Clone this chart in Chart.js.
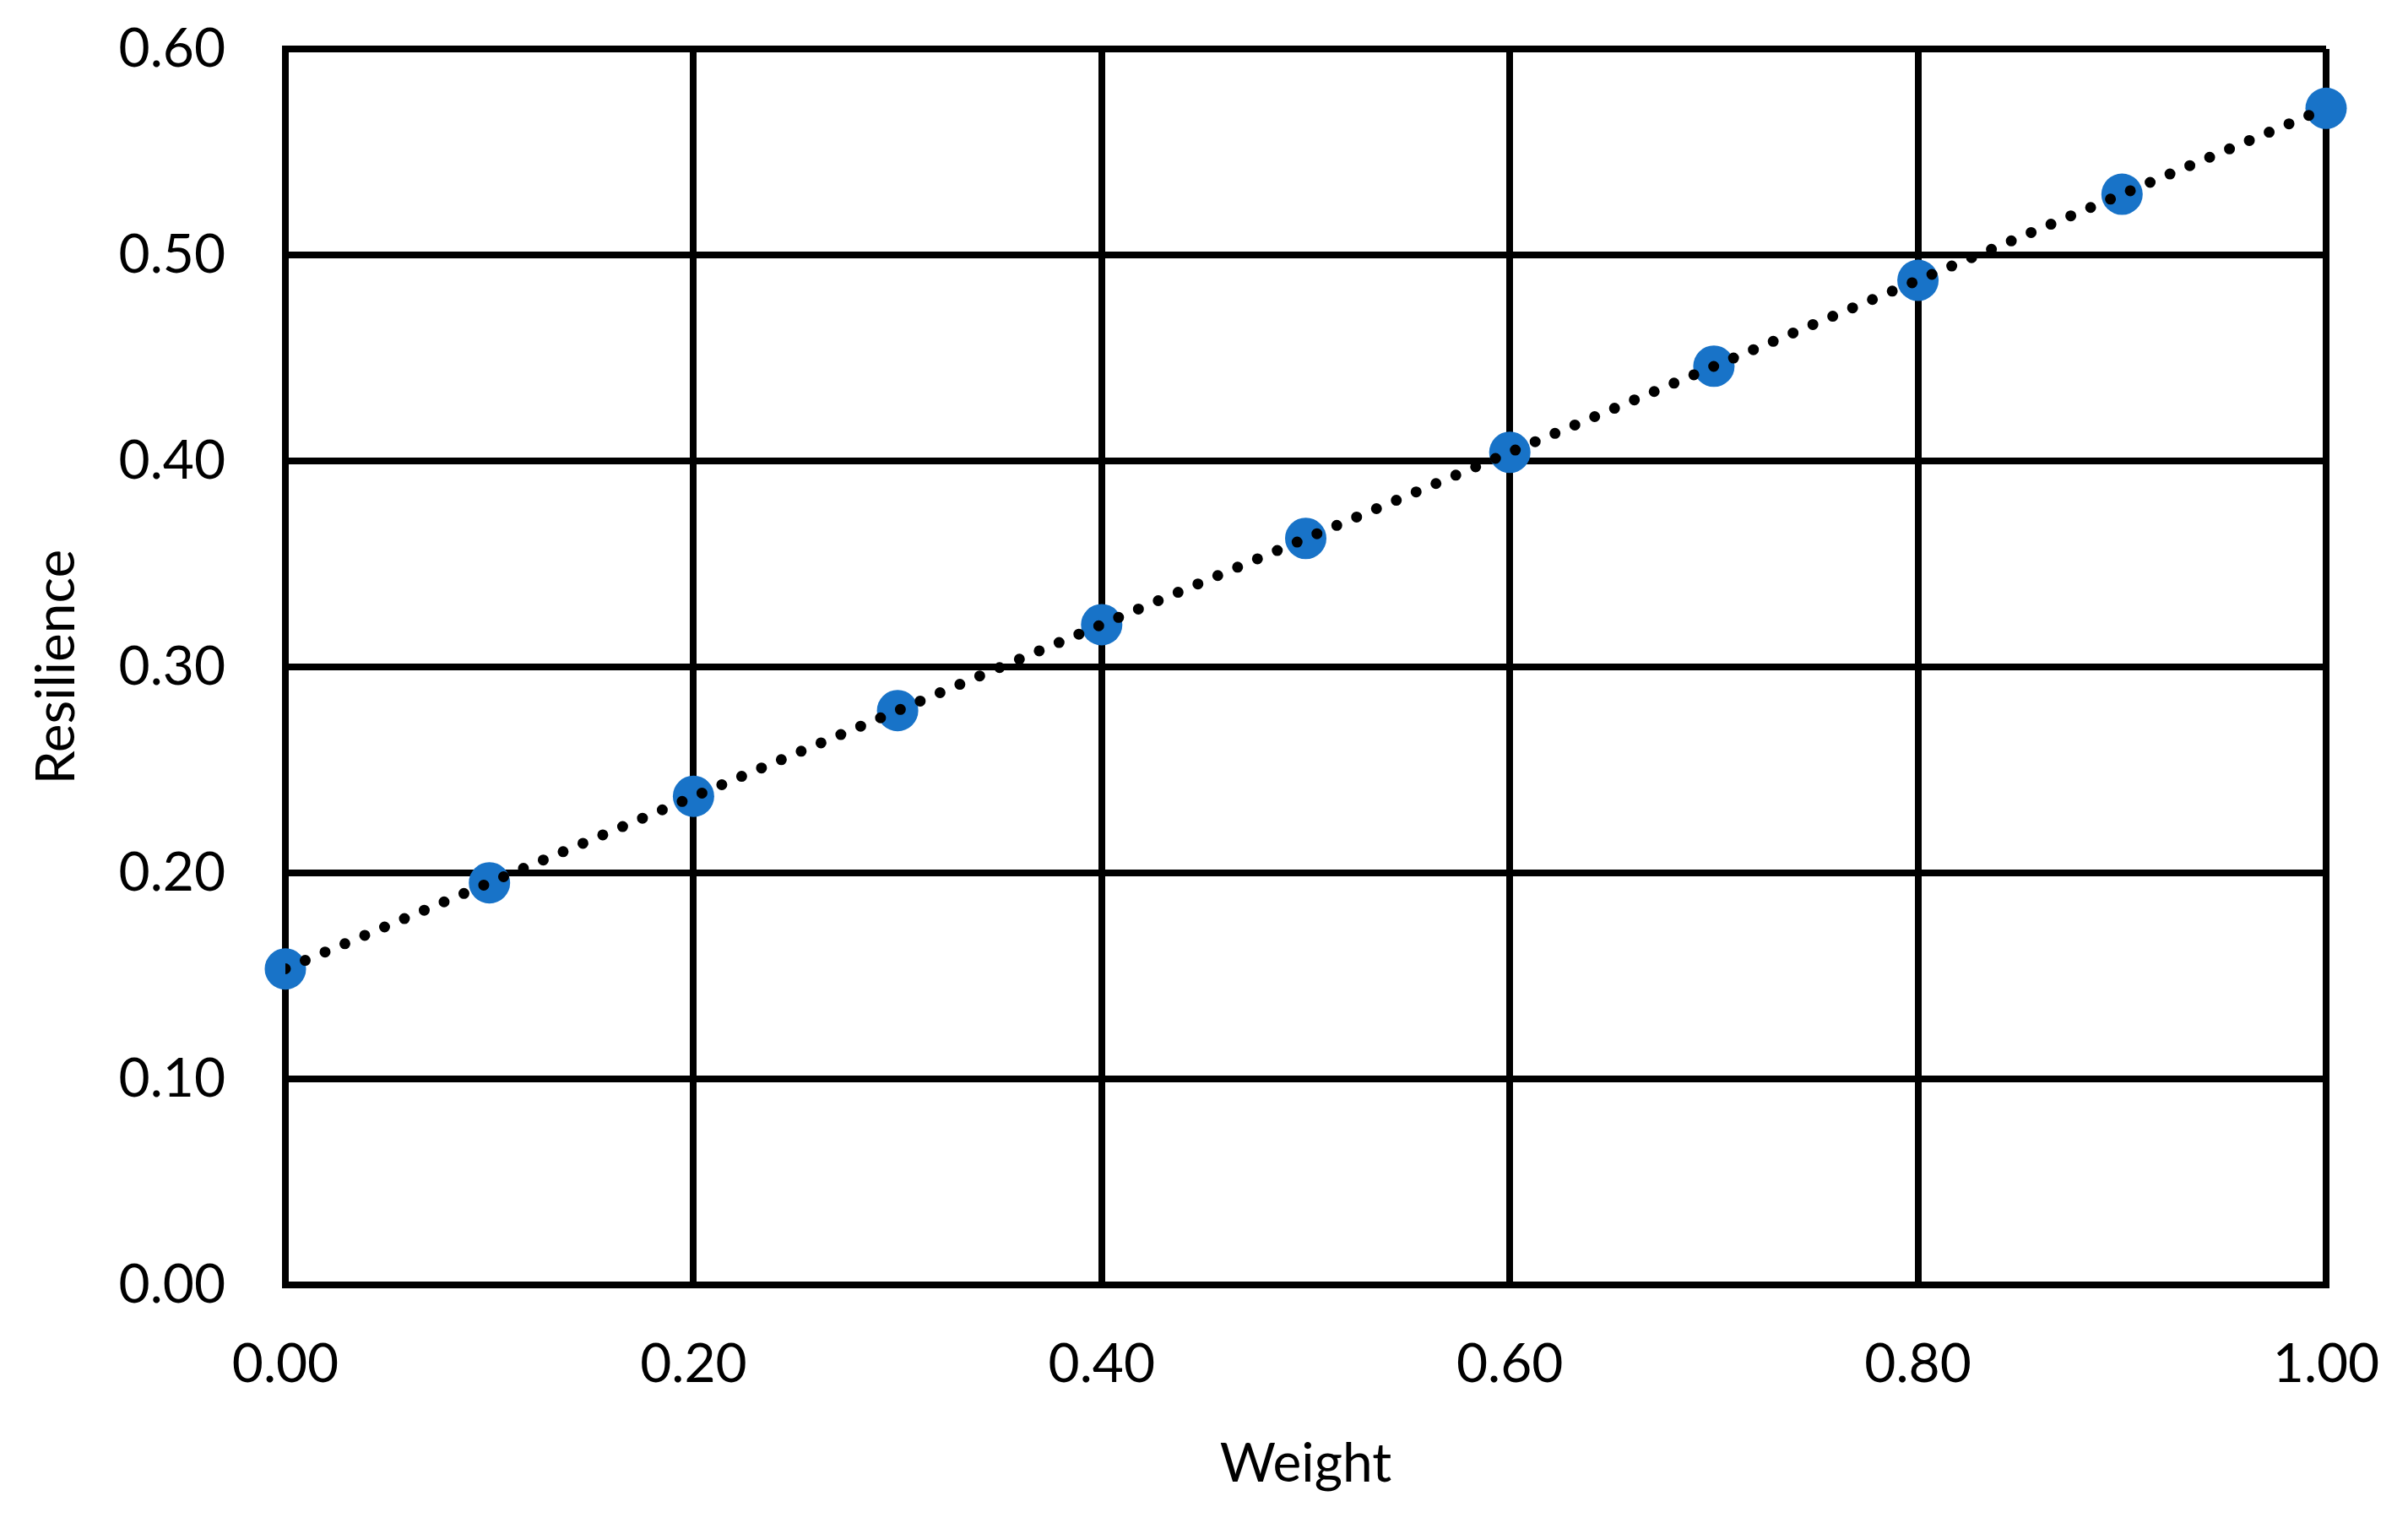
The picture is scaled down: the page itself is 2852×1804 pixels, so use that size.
<!DOCTYPE html>
<html>
<head>
<meta charset="utf-8">
<script src="https://cdn.jsdelivr.net/npm/chart.js@4.4.0/dist/chart.umd.min.js"></script>
<style>
  html, body { margin: 0; padding: 0; background: #ffffff; }
  #wrap { width: 2852px; height: 1804px; }
</style>
</head>
<body>
<div id="wrap"><canvas id="c" width="2852" height="1804"></canvas></div>
<script>
// ---- data ----
const weights = [0.0, 0.1, 0.2, 0.3, 0.4, 0.5, 0.6, 0.7, 0.8, 0.9, 1.0];
const resilience = [0.1534, 0.1952, 0.2372, 0.2788, 0.3205, 0.3624, 0.4042, 0.4460, 0.4877, 0.5295, 0.5712];
const xTickValues = [0.0, 0.2, 0.4, 0.6, 0.8, 1.0];
const xTickLabels = ['0.00', '0.20', '0.40', '0.60', '0.80', '1.00'];
const yTickValues = [0.0, 0.1, 0.2, 0.3, 0.4, 0.5, 0.6];
const yTickLabels = ['0.00', '0.10', '0.20', '0.30', '0.40', '0.50', '0.60'];
const xTitle = 'Weight';
const yTitle = 'Resilience';

// linear trendline (least squares) from the data
function trend(xs, ys) {
  const n = xs.length;
  let sx = 0, sy = 0, sxx = 0, sxy = 0;
  for (let i = 0; i < n; i++) { sx += xs[i]; sy += ys[i]; sxx += xs[i] * xs[i]; sxy += xs[i] * ys[i]; }
  const b = (n * sxy - sx * sy) / (n * sxx - sx * sx);
  const a = (sy - b * sx) / n;
  const x0 = xs[0], x1 = xs[n - 1];
  return [{ x: x0, y: a + b * x0 }, { x: x1, y: a + b * x1 }];
}

const FONT = 'Lato, Carlito, Calibri, sans-serif';
const fontTick = { family: FONT, size: 64 };
function zeroPad(s) { s.paddingTop = 0; s.paddingBottom = 0; s.paddingLeft = 0; s.paddingRight = 0; }

new Chart(document.getElementById('c'), {
  type: 'scatter',
  data: {
    datasets: [
      {
        type: 'line',
        label: 'Trend',
        data: trend(weights, resilience),
        borderColor: '#000000',
        borderWidth: 13,
        borderDash: [0, 25.5],
        borderCapStyle: 'round',
        pointRadius: 0,
        fill: false,
        tension: 0,
        clip: 0
      },
      {
        label: 'Resilience',
        data: weights.map((w, i) => ({ x: w, y: resilience[i] })),
        backgroundColor: '#1873C8',
        borderWidth: 0,
        pointRadius: 24.5,
        pointHoverRadius: 24.5,
        clip: false
      }
    ]
  },
  options: {
    responsive: false,
    animation: false,
    devicePixelRatio: 1,
    layout: { autoPadding: false, padding: { top: 58, right: 97, left: 0, bottom: 0 } },
    plugins: { legend: { display: false }, tooltip: { enabled: false } },
    scales: {
      x: {
        type: 'linear',
        min: 0, max: 1,
        afterBuildTicks: (s) => { s.ticks = xTickValues.map(v => ({ value: v })); },
        afterFit: (s) => { s.height = 282; zeroPad(s); },
        ticks: {
          color: '#000000',
          font: fontTick,
          padding: 56,
          maxRotation: 0,
          autoSkip: false,
          callback: (v) => { const i = xTickValues.findIndex(t => Math.abs(t - v) < 1e-9); return i >= 0 ? xTickLabels[i] : ''; }
        },
        grid: { color: '#000000', lineWidth: 8, drawTicks: false },
        border: { display: true, color: '#000000', width: 8 },
        title: { display: true, text: xTitle, color: '#000000', font: { family: FONT, size: 64 }, padding: { top: 0, bottom: 31 } }
      },
      y: {
        type: 'linear',
        min: 0, max: 0.6,
        afterBuildTicks: (s) => { s.ticks = yTickValues.map(v => ({ value: v })); },
        afterFit: (s) => { s.width = 338; zeroPad(s); },
        ticks: {
          color: '#000000',
          font: fontTick,
          padding: 71,
          autoSkip: false,
          callback: (v) => { const i = yTickValues.findIndex(t => Math.abs(t - v) < 1e-9); return i >= 0 ? yTickLabels[i] : ''; }
        },
        grid: { color: '#000000', lineWidth: 8, drawTicks: false },
        border: { display: true, color: '#000000', width: 8 },
        title: { display: true, text: yTitle, color: '#000000', font: { family: FONT, size: 64 }, padding: { top: 29, bottom: 0 } }
      }
    }
  }
});
</script>
</body>
</html>
